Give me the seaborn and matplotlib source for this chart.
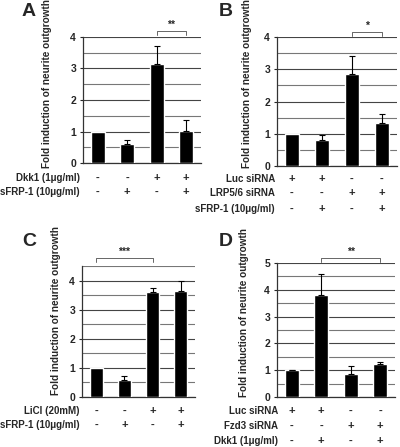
import seaborn as sns
import pandas as pd
import numpy as np
import matplotlib.pyplot as plt
from matplotlib.transforms import blended_transform_factory

# data
a_vals = [1.0, 0.6, 3.13, 1.02]
a_err = [0.0, 0.12, 0.58, 0.35]
a_rows = ['Dkk1 (1\u03bcg/ml)', 'sFRP-1 (10\u03bcg/ml)']
a_signs = [['-', '-', '+', '+'], ['-', '+', '-', '+']]

b_vals = [1.0, 0.82, 2.85, 1.33]
b_err = [0.0, 0.15, 0.57, 0.27]
b_rows = ['Luc siRNA', 'LRP5/6 siRNA', 'sFRP-1 (10\u03bcg/ml)']
b_signs = [['+', '+', '-', '-'], ['-', '-', '+', '+'], ['-', '+', '-', '+']]

c_vals = [1.0, 0.58, 3.62, 3.65]
c_err = [0.0, 0.15, 0.12, 0.32]
c_rows = ['LiCl (20mM)', 'sFRP-1 (10\u03bcg/ml)']
c_signs = [['-', '-', '+', '+'], ['-', '+', '-', '+']]

d_vals = [1.0, 3.8, 0.87, 1.25]
d_err = [0.02, 0.78, 0.27, 0.07]
d_rows = ['Luc siRNA', 'Fzd3 siRNA', 'Dkk1 (1\u03bcg/ml)']
d_signs = [['+', '+', '-', '-'], ['-', '-', '+', '+'], ['-', '+', '-', '+']]

sns.set_style('white')
plt.rcParams['font.family'] = ['Liberation Sans', 'DejaVu Sans']
plt.rcParams['font.weight'] = 'bold'

W, H = 400, 447
fig = plt.figure(figsize=(4, 4.47), dpi=100)

def px(x, y):
    return x / W, 1 - y / H

def panel(letter, vals, err, rows, signs, box, ymax, ytop_lim, lab_xy, letter_xy,
          row_x, row_ys, sig, sig_y, stars):
    l, t, r, b = box
    ax = fig.add_axes([l / W, 1 - b / H, (r - l) / W, (b - t) / H])
    df = pd.DataFrame({'g': ['1', '2', '3', '4'], 'v': vals})
    sns.barplot(data=df, x='g', y='v', color='black', width=0.46, ax=ax,
                saturation=1, zorder=3)
    # only upper error bars, skip the normalised control
    idx = [i for i, e in enumerate(err) if e > 0]
    ax.errorbar(idx, [vals[i] for i in idx],
                yerr=[np.zeros(len(idx)), [err[i] for i in idx]], fmt='none',
                ecolor='black', elinewidth=0.8, capsize=2.5, capthick=0.8, zorder=4)
    ax.set_xlim(-0.5, 3.5)
    ax.set_ylim(0, ytop_lim)
    ax.set_yticks(range(0, ymax + 1))
    ax.set_yticks(np.arange(0.5, ytop_lim + 0.01, 0.5), minor=True)
    ax.grid(axis='y', which='major', color='#444444', linewidth=0.8, zorder=0)
    ax.grid(axis='y', which='minor', color='#777777', linewidth=0.8, zorder=0)
    ax.set_xticks([])
    ax.set_xlabel('')
    ax.set_ylabel('Fold induction of neurite outgrowth', fontsize=7.2, fontweight='bold')
    ax.yaxis.set_label_coords(*lab_xy)
    ax.tick_params(axis='y', labelsize=7.5, length=2, width=0.8, pad=3, left=True)
    for s in ['top', 'right']:
        ax.spines[s].set_visible(False)
    for s in ['left', 'bottom']:
        ax.spines[s].set_color('#333333')
        ax.spines[s].set_linewidth(0.9)

    tr = blended_transform_factory(ax.transData, fig.transFigure)
    for name, sg, yy in zip(rows, signs, row_ys):
        fig.text(row_x / W, 1 - yy / H, name, ha='right', va='center', fontsize=7,
                 fontweight='bold')
        for i, s in enumerate(sg):
            ax.text(i, 1 - yy / H, s, transform=tr, ha='center', va='center',
                    fontsize=8, fontweight='bold', clip_on=False)

    # significance bracket
    i0, i1 = sig
    yb = 1 - sig_y / H
    ax.plot([i0, i0, i1, i1], [yb - 0.008, yb, yb, yb - 0.008], transform=tr,
            color='#666666', linewidth=0.7, clip_on=False)
    ax.text((i0 + i1) / 2, yb + 0.002, stars, transform=tr, ha='center', va='bottom',
            fontsize=7.5, fontweight='bold')

    fig.text(*px(*letter_xy), letter, fontsize=14, fontweight='bold', ha='center', va='center')
    return ax

panel('A', a_vals, a_err, a_rows, a_signs, (83, 37, 201, 163), 4, 4.0,
      (-0.26, 0.63), (29, 11), 80, [178, 192], (2, 3), 31, '**')
panel('B', b_vals, b_err, b_rows, b_signs, (277, 37, 397, 166), 4, 4.0,
      (-0.21, 0.64), (226, 11), 275, [179, 193, 209], (2, 3), 32, '*')
panel('C', c_vals, c_err, c_rows, c_signs, (82, 266, 195, 397), 4, 4.5,
      (-0.19, 0.66), (29, 241), 80, [411, 425], (0, 2), 258, '***')
panel('D', d_vals, d_err, d_rows, d_signs, (277, 263, 395, 397), 5, 5.0,
      (-0.24, 0.63), (226, 241), 278, [411, 426, 441], (1, 3), 258, '**')

plt.savefig('out.png', dpi=100)
